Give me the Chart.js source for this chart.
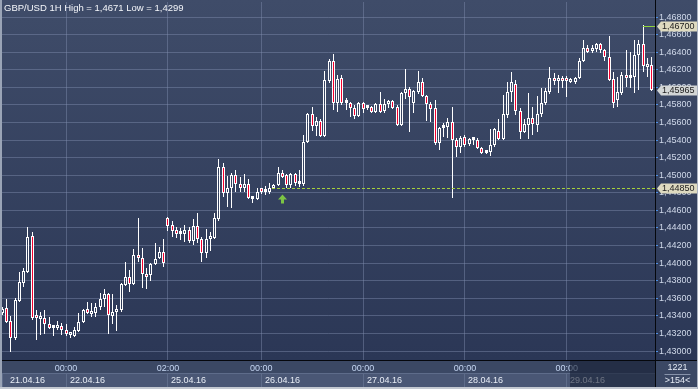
<!DOCTYPE html>
<html>
<head>
<meta charset="utf-8">
<script src="https://cdn.jsdelivr.net/npm/chart.js@4.4.0/dist/chart.umd.min.js"></script>
<style>
  html, body { margin: 0; padding: 0; background: #2e3a56; }
  #wrap { width: 698px; height: 389px; }
</style>
</head>
<body>
<div id="wrap"><canvas id="chart" width="698" height="389"></canvas></div>
<script>
// GBP/USD hourly candles, 21.04.16 09:00 .. 29.04.16 20:00 (154 bars)
const opens = [
  1.4343, 1.4349, 1.4334, 1.4315, 1.4357, 1.4377, 1.4390, 1.4431, 1.4340, 1.4336,
  1.4338, 1.4331, 1.4326, 1.4326, 1.4328, 1.4324, 1.4318, 1.4317, 1.4323, 1.4333,
  1.4348, 1.4342, 1.4343, 1.4350, 1.4359, 1.4365, 1.4340, 1.4344, 1.4347, 1.4375,
  1.4384, 1.4376, 1.4409, 1.4406, 1.4388, 1.4386, 1.4399, 1.4406, 1.4413, 1.4451,
  1.4443, 1.4438, 1.4433, 1.4433, 1.4438, 1.4425, 1.4442, 1.4427, 1.4412, 1.4427,
  1.4429, 1.4450, 1.4509, 1.4480, 1.4485, 1.4500, 1.4490, 1.4485, 1.4490, 1.4473,
  1.4473, 1.4485, 1.4481, 1.4481, 1.4485, 1.4489, 1.4503, 1.4500, 1.4489, 1.4501,
  1.4490, 1.4490, 1.4538, 1.4570, 1.4556, 1.4562, 1.4545, 1.4607, 1.4630, 1.4582,
  1.4611, 1.4582, 1.4582, 1.4576, 1.4567, 1.4582, 1.4576, 1.4578, 1.4572, 1.4581,
  1.4573, 1.4581, 1.4584, 1.4578, 1.4557, 1.4594, 1.4598, 1.4582, 1.4595, 1.4606,
  1.4590, 1.4581, 1.4576, 1.4537, 1.4554, 1.4555, 1.4561, 1.4540, 1.4532, 1.4543,
  1.4536, 1.4540, 1.4540, 1.4531, 1.4525, 1.4527, 1.4534, 1.4550, 1.4541, 1.4569,
  1.4595, 1.4604, 1.4573, 1.4549, 1.4557, 1.4565, 1.4557, 1.4570, 1.4582, 1.4595,
  1.4611, 1.4607, 1.4611, 1.4608, 1.4606, 1.4606, 1.4611, 1.4630, 1.4645, 1.4641,
  1.4644, 1.4649, 1.4642, 1.4635, 1.4609, 1.4586, 1.4594, 1.4614, 1.4611, 1.4612,
  1.4637, 1.4649, 1.4623, 1.4625
];
const highs = [
  1.4350, 1.4359, 1.4340, 1.4360, 1.4390, 1.4394, 1.4441, 1.4435, 1.4347, 1.4344,
  1.4347, 1.4339, 1.4330, 1.4334, 1.4332, 1.4331, 1.4322, 1.4327, 1.4343, 1.4348,
  1.4356, 1.4355, 1.4355, 1.4366, 1.4371, 1.4366, 1.4365, 1.4352, 1.4377, 1.4401,
  1.4392, 1.4416, 1.4451, 1.4417, 1.4394, 1.4400, 1.4423, 1.4418, 1.4427, 1.4452,
  1.4448, 1.4441, 1.4440, 1.4443, 1.4441, 1.4450, 1.4457, 1.4430, 1.4439, 1.4435,
  1.4457, 1.4518, 1.4514, 1.4499, 1.4503, 1.4506, 1.4498, 1.4501, 1.4496, 1.4475,
  1.4485, 1.4486, 1.4488, 1.4491, 1.4490, 1.4509, 1.4506, 1.4501, 1.4502, 1.4502,
  1.4506, 1.4546, 1.4571, 1.4578, 1.4566, 1.4564, 1.4619, 1.4632, 1.4638, 1.4614,
  1.4614, 1.4588, 1.4583, 1.4580, 1.4583, 1.4583, 1.4579, 1.4579, 1.4582, 1.4595,
  1.4587, 1.4586, 1.4586, 1.4580, 1.4595, 1.4621, 1.4600, 1.4597, 1.4619, 1.4611,
  1.4591, 1.4583, 1.4586, 1.4555, 1.4559, 1.4565, 1.4578, 1.4542, 1.4545, 1.4546,
  1.4542, 1.4542, 1.4542, 1.4532, 1.4528, 1.4553, 1.4554, 1.4564, 1.4591, 1.4606,
  1.4617, 1.4608, 1.4576, 1.4564, 1.4594, 1.4578, 1.4590, 1.4599, 1.4599, 1.4623,
  1.4616, 1.4614, 1.4613, 1.4613, 1.4611, 1.4612, 1.4633, 1.4654, 1.4648, 1.4648,
  1.4650, 1.4650, 1.4644, 1.4658, 1.4617, 1.4612, 1.4617, 1.4642, 1.4640, 1.4654,
  1.4654, 1.4671, 1.4633, 1.4635
];
const lows = [
  1.4341, 1.4332, 1.4299, 1.4313, 1.4356, 1.4373, 1.4389, 1.4335, 1.4313, 1.4318,
  1.4319, 1.4325, 1.4317, 1.4324, 1.4318, 1.4317, 1.4315, 1.4316, 1.4322, 1.4332,
  1.4342, 1.4339, 1.4339, 1.4347, 1.4350, 1.4319, 1.4331, 1.4323, 1.4344, 1.4374,
  1.4367, 1.4375, 1.4401, 1.4372, 1.4371, 1.4380, 1.4398, 1.4405, 1.4396, 1.4437,
  1.4430, 1.4429, 1.4426, 1.4424, 1.4423, 1.4421, 1.4423, 1.4401, 1.4406, 1.4414,
  1.4427, 1.4448, 1.4475, 1.4464, 1.4463, 1.4481, 1.4481, 1.4481, 1.4473, 1.4468,
  1.4472, 1.4479, 1.4477, 1.4479, 1.4484, 1.4488, 1.4497, 1.4485, 1.4485, 1.4488,
  1.4487, 1.4488, 1.4537, 1.4550, 1.4545, 1.4543, 1.4543, 1.4605, 1.4574, 1.4572,
  1.4580, 1.4574, 1.4566, 1.4564, 1.4566, 1.4571, 1.4574, 1.4571, 1.4571, 1.4571,
  1.4571, 1.4576, 1.4575, 1.4556, 1.4556, 1.4587, 1.4549, 1.4571, 1.4592, 1.4589,
  1.4562, 1.4561, 1.4534, 1.4529, 1.4543, 1.4542, 1.4474, 1.4521, 1.4525, 1.4532,
  1.4533, 1.4534, 1.4530, 1.4524, 1.4524, 1.4522, 1.4532, 1.4540, 1.4540, 1.4565,
  1.4583, 1.4569, 1.4541, 1.4548, 1.4541, 1.4546, 1.4549, 1.4566, 1.4580, 1.4592,
  1.4603, 1.4594, 1.4599, 1.4589, 1.4605, 1.4604, 1.4609, 1.4629, 1.4639, 1.4639,
  1.4640, 1.4639, 1.4630, 1.4607, 1.4576, 1.4578, 1.4591, 1.4600, 1.4599, 1.4594,
  1.4597, 1.4617, 1.4612, 1.4596
];
const closes = [
  1.4348, 1.4333, 1.4315, 1.4358, 1.4379, 1.4391, 1.4430, 1.4338, 1.4338, 1.4339,
  1.4331, 1.4326, 1.4327, 1.4328, 1.4324, 1.4319, 1.4320, 1.4324, 1.4333, 1.4347,
  1.4343, 1.4344, 1.4350, 1.4359, 1.4365, 1.4341, 1.4344, 1.4348, 1.4376, 1.4384,
  1.4376, 1.4409, 1.4406, 1.4388, 1.4384, 1.4399, 1.4405, 1.4413, 1.4400, 1.4442,
  1.4437, 1.4433, 1.4434, 1.4438, 1.4425, 1.4442, 1.4427, 1.4412, 1.4427, 1.4430,
  1.4451, 1.4509, 1.4480, 1.4485, 1.4500, 1.4490, 1.4485, 1.4490, 1.4474, 1.4474,
  1.4481, 1.4481, 1.4482, 1.4485, 1.4489, 1.4503, 1.4498, 1.4489, 1.4501, 1.4491,
  1.4491, 1.4538, 1.4570, 1.4556, 1.4562, 1.4545, 1.4608, 1.4630, 1.4582, 1.4609,
  1.4582, 1.4583, 1.4576, 1.4567, 1.4582, 1.4575, 1.4578, 1.4572, 1.4581, 1.4572,
  1.4581, 1.4583, 1.4576, 1.4557, 1.4594, 1.4598, 1.4589, 1.4596, 1.4606, 1.4590,
  1.4581, 1.4575, 1.4537, 1.4554, 1.4555, 1.4561, 1.4540, 1.4532, 1.4542, 1.4534,
  1.4541, 1.4541, 1.4531, 1.4525, 1.4526, 1.4534, 1.4553, 1.4541, 1.4570, 1.4595,
  1.4606, 1.4573, 1.4549, 1.4558, 1.4565, 1.4558, 1.4570, 1.4582, 1.4596, 1.4611,
  1.4607, 1.4611, 1.4607, 1.4607, 1.4609, 1.4611, 1.4630, 1.4645, 1.4640, 1.4644,
  1.4649, 1.4642, 1.4635, 1.4608, 1.4582, 1.4595, 1.4614, 1.4611, 1.4612, 1.4637,
  1.4649, 1.4624, 1.4625, 1.45965
];

// days on the time axis: label, index of its first bar, label of that bar
const dayLabels = ['21.04.16', '22.04.16', '25.04.16', '26.04.16', '27.04.16', '28.04.16', '29.04.16'];
const dayFirstBar = [0, 15, 39, 61, 85, 109, 133];
const dayTimeLabels = ['09:00', '00:00', '02:00', '00:00', '00:00', '00:00', '00:00'];

const yTicks = [
  1.430, 1.432, 1.434, 1.436, 1.438, 1.440, 1.442, 1.444, 1.446, 1.448,
  1.450, 1.452, 1.454, 1.456, 1.458, 1.460, 1.462, 1.464, 1.466, 1.468
];

// price marks on the right axis
const markValues = [1.4670, 1.45965, 1.4485];
const markLabels = ['1,46700', '1,45965', '1,44850'];
const entryBar = 66;      // green arrow
const entryLineFrom = 64; // dashed level starts here
const highBar = 151;

const titleText = 'GBP/USD 1H High = 1,4671 Low = 1,4299';
const barsTotal = '1221';
const barsShown = '>154<';

const FONT = '"Liberation Sans", Arial, sans-serif';
const fmt = (v) => v.toFixed(5).replace('.', ',');

const bodyData = opens.map((o, i) => ({ x: i, y: [o, closes[i]] }));
const upperWick = opens.map((o, i) => ({ x: i, y: [Math.max(o, closes[i]), highs[i]] }));
const lowerWick = opens.map((o, i) => ({ x: i, y: [lows[i], Math.min(o, closes[i])] }));
const bodyFill = opens.map((o, i) => (closes[i] < o ? '#f4002e' : 'rgba(0,0,0,0)'));

// keep candles on whole pixels so they stay crisp
const snapBars = {
  id: 'snapBars',
  afterDatasetsUpdate(chart) {
    chart.data.datasets.forEach((ds, di) => {
      chart.getDatasetMeta(di).data.forEach((el) => {
        el.x = Math.floor(el.x) + 0.5;
        el.y = Math.round(el.y);
        el.base = Math.round(el.base);
      });
    });
  },
};

const panels = {
  id: 'panels',
  beforeDraw(chart) {
    const { ctx, width, height, chartArea: a } = chart;
    const x = chart.scales.x;
    ctx.save();
    const g = ctx.createLinearGradient(0, 0, 0, a.bottom);
    g.addColorStop(0, '#3f4c69');
    g.addColorStop(1, '#2b3756');
    ctx.fillStyle = g;
    ctx.fillRect(0, 0, width, a.bottom);

    ctx.fillStyle = '#3b4864';
    ctx.fillRect(0, a.bottom, width, height - a.bottom);

    // date boxes under the time labels
    const bounds = dayFirstBar.map((b, d) => (d === 0 ? a.left : Math.floor(x.getPixelForValue(b))));
    bounds.push(a.right);
    ctx.font = '9px ' + FONT;
    ctx.textBaseline = 'middle';
    ctx.textAlign = 'left';
    dayLabels.forEach((lab, d) => {
      const x0 = bounds[d];
      const x1 = bounds[d + 1];
      ctx.fillStyle = '#4a5775';
      ctx.fillRect(x0, 373, x1 - x0, 14);
      ctx.fillStyle = '#5e6c8a';
      ctx.fillRect(x0, 373, x1 - x0, 1);
      ctx.fillRect(x0, 373, 1, 14);
      ctx.fillStyle = '#e8edf6';
      ctx.fillText(lab, d === 0 ? x0 + 8 : x0 + 4, 380.5);
    });
    ctx.restore();
  },
  afterDraw(chart) {
    const { ctx, width, height, chartArea: a } = chart;
    const x = chart.scales.x;
    const y = chart.scales.y;
    ctx.save();

    // current day is dimmed in the time panel
    const curX = Math.floor(x.getPixelForValue(dayFirstBar[dayFirstBar.length - 1])) + 4;
    ctx.fillStyle = 'rgba(22,30,50,0.6)';
    ctx.fillRect(curX, a.bottom + 1, a.right - curX, height - a.bottom - 3);

    // entry level and arrow
    const yEntry = Math.round(y.getPixelForValue(markValues[2])) + 0.5;
    ctx.strokeStyle = '#a6d03c';
    ctx.lineWidth = 1;
    ctx.setLineDash([3, 2]);
    ctx.beginPath();
    ctx.moveTo(Math.floor(x.getPixelForValue(entryLineFrom)) - 1, yEntry);
    ctx.lineTo(a.right, yEntry);
    ctx.stroke();
    ctx.setLineDash([]);

    const ax = Math.floor(x.getPixelForValue(entryBar)) + 0.5;
    const at = yEntry + 6;
    ctx.fillStyle = '#7cc444';
    ctx.beginPath();
    ctx.moveTo(ax, at);
    ctx.lineTo(ax + 4.5, at + 5);
    ctx.lineTo(ax + 1.5, at + 5);
    ctx.lineTo(ax + 1.5, at + 9);
    ctx.lineTo(ax - 1.5, at + 9);
    ctx.lineTo(ax - 1.5, at + 5);
    ctx.lineTo(ax - 4.5, at + 5);
    ctx.closePath();
    ctx.fill();

    // high marker line
    const yHigh = Math.round(y.getPixelForValue(markValues[0])) + 0.5;
    ctx.strokeStyle = '#8fd23c';
    ctx.beginPath();
    ctx.moveTo(Math.floor(x.getPixelForValue(highBar)), yHigh);
    ctx.lineTo(a.right, yHigh);
    ctx.stroke();

    // axis separators
    ctx.fillStyle = '#05070c';
    ctx.fillRect(a.right, 0, 1, height);
    ctx.fillRect(0, a.bottom, width, 1);

    // price labels
    ctx.font = '9px ' + FONT;
    ctx.textBaseline = 'middle';
    ctx.textAlign = 'left';
    markValues.forEach((v, k) => {
      const py = Math.round(y.getPixelForValue(v));
      const x0 = a.right + 2;
      ctx.fillStyle = k === 1 ? '#d3d6d6' : '#dedac0';
      ctx.beginPath();
      ctx.moveTo(x0, py + 0.5);
      ctx.lineTo(x0 + 4, py - 4.5);
      ctx.lineTo(width - 1, py - 4.5);
      ctx.lineTo(width - 1, py + 5.5);
      ctx.lineTo(x0 + 4, py + 5.5);
      ctx.closePath();
      ctx.fill();
      ctx.fillStyle = '#1c1c1c';
      ctx.fillText(markLabels[k], x0 + 5, py + 1);
    });

    // bar counter corner
    ctx.fillStyle = '#3b4864';
    ctx.fillRect(a.right + 1, a.bottom + 1, width - a.right - 1, height - a.bottom - 1);
    ctx.fillStyle = '#e4eaf4';
    ctx.textAlign = 'center';
    const cx = (a.right + width) / 2;
    ctx.fillText(barsTotal, cx + 1, a.bottom + 8);
    ctx.fillStyle = '#8793aa';
    ctx.fillRect(cx - 12, a.bottom + 14, 26, 1);
    ctx.fillStyle = '#e4eaf4';
    ctx.fillText(barsShown, cx + 1, a.bottom + 21);

    // frame
    ctx.fillStyle = '#9aa4b6';
    ctx.fillRect(0, 0, 2, height);
    ctx.fillStyle = '#c3c8d1';
    ctx.fillRect(0, height - 2, width, 2);
    ctx.fillStyle = '#aab2c0';
    ctx.fillRect(width - 1, 0, 1, height);

    // title
    ctx.textAlign = 'left';
    ctx.font = '9.5px ' + FONT;
    ctx.fillStyle = '#f4f6fa';
    ctx.fillText(titleText, 4, 8);
    ctx.restore();
  },
};

new Chart(document.getElementById('chart'), {
  type: 'bar',
  data: {
    datasets: [
      {
        data: bodyData,
        backgroundColor: bodyFill,
        borderColor: '#ffffff',
        borderWidth: 1,
        borderSkipped: false,
        inflateAmount: 0,
        barThickness: 3,
        minBarLength: 3,
        grouped: false,
        order: 0,
      },
      {
        data: upperWick,
        backgroundColor: '#ffffff',
        borderWidth: 0,
        inflateAmount: 0,
        barThickness: 1,
        grouped: false,
        order: 1,
      },
      {
        data: lowerWick,
        backgroundColor: '#ffffff',
        borderWidth: 0,
        inflateAmount: 0,
        barThickness: 1,
        grouped: false,
        order: 1,
      },
    ],
  },
  options: {
    responsive: false,
    animation: false,
    events: [],
    layout: { padding: { left: 2, top: 2, right: 0, bottom: 0 } },
    plugins: {
      legend: { display: false },
      tooltip: { enabled: false },
      title: { display: false },
    },
    scales: {
      x: {
        type: 'linear',
        min: -0.1,
        max: 153.8,
        offset: false,
        afterBuildTicks: (axis) => {
          axis.ticks = dayFirstBar.slice(1).map((v) => ({ value: v }));
        },
        afterFit: (axis) => {
          axis.height = 29;
          axis.paddingLeft = 0;
          axis.paddingRight = 0;
        },
        grid: {
          offset: false,
          color: 'rgba(128,143,175,0.45)',
          borderDash: [3, 3],
          drawTicks: false,
        },
        border: { display: false },
        ticks: {
          autoSkip: false,
          maxRotation: 0,
          padding: 3,
          color: '#c5d6f2',
          font: { family: FONT, size: 9 },
          callback: (v, i) => dayTimeLabels[i + 1],
        },
      },
      y: {
        position: 'right',
        min: 1.42898,
        max: 1.46971,
        afterBuildTicks: (axis) => {
          axis.ticks = yTicks.map((v) => ({ value: v }));
        },
        afterFit: (axis) => {
          axis.width = 43;
          axis.paddingTop = 0;
          axis.paddingBottom = 0;
        },
        grid: {
          color: 'rgba(128,143,175,0.45)',
          borderDash: [3, 3],
          tickBorderDash: [],
          tickColor: '#4e8fe3',
          tickLength: 3,
        },
        border: { display: false },
        ticks: {
          padding: 1,
          color: '#d0d9ea',
          font: { family: FONT, size: 9 },
          callback: (v) => fmt(v),
        },
      },
    },
  },
  plugins: [snapBars, panels],
});
</script>
</body>
</html>
